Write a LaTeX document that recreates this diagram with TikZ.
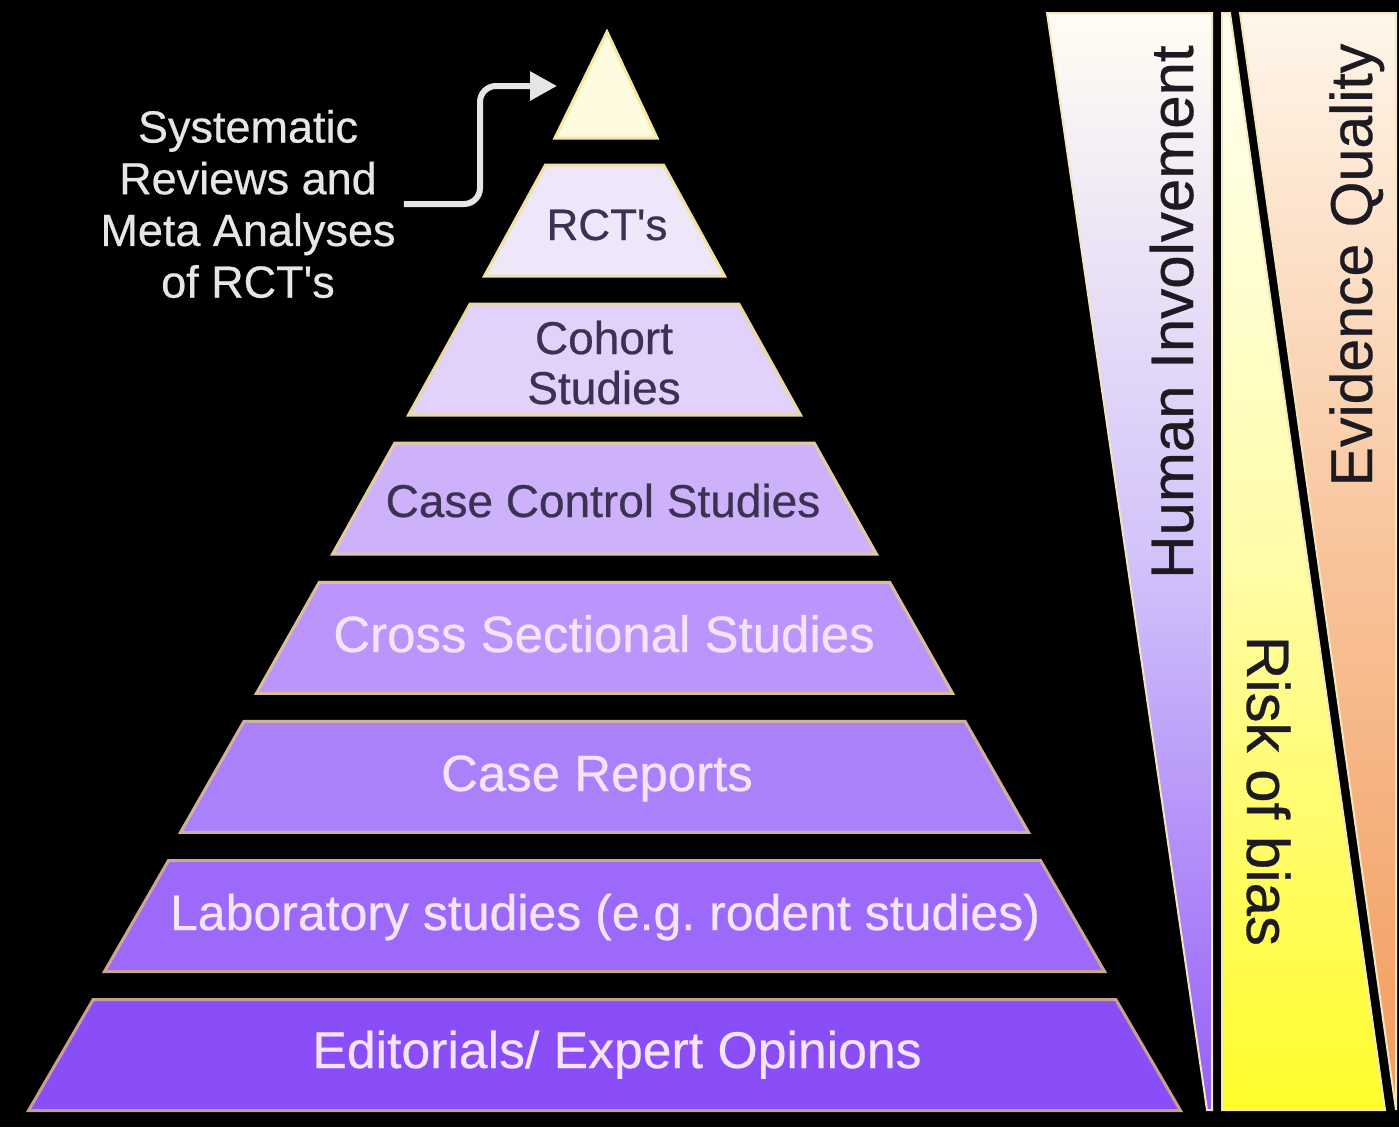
\documentclass[tikz,border=0pt]{standalone}
\usepackage{fontspec}
\setmainfont{Liberation Sans}[FakeBold=0.5]
\usetikzlibrary{arrows.meta}

% layer fills and edges, from the tip down to the base
\definecolor{apexfill}{HTML}{FEFAE0}
\definecolor{apexedge}{HTML}{F5E9A0}
\definecolor{fillA}{HTML}{EEE7F9}
\definecolor{edgeA}{HTML}{EFE2A2}
\definecolor{fillB}{HTML}{E2D2FB}
\definecolor{edgeB}{HTML}{E8D8A2}
\definecolor{fillC}{HTML}{CDB2FB}
\definecolor{edgeC}{HTML}{E0CCA0}
\definecolor{fillD}{HTML}{BB95FC}
\definecolor{edgeD}{HTML}{D8BE9C}
\definecolor{fillE}{HTML}{AB80FB}
\definecolor{edgeE}{HTML}{D0B29A}
\definecolor{fillF}{HTML}{9C69FA}
\definecolor{edgeF}{HTML}{CBA896}
\definecolor{fillG}{HTML}{8A4EF9}
\definecolor{edgeG}{HTML}{C7A092}
% text colours
\definecolor{darktext}{HTML}{3B3152}
\definecolor{lighttext}{HTML}{F4E4FA}
\definecolor{notetext}{HTML}{E6E6E6}
\definecolor{bartext}{HTML}{1E1A22}
% side bars
\definecolor{hitop}{HTML}{FFFDF3}
\definecolor{himid}{HTML}{D2C2FA}
\definecolor{hibot}{HTML}{9560F8}
\definecolor{rbtop}{HTML}{FFFFF4}
\definecolor{rbmid}{HTML}{FFFCA8}
\definecolor{rbbot}{HTML}{FFFC2A}
\definecolor{eqtop}{HTML}{FFF6EA}
\definecolor{eqmid}{HTML}{F8C39A}
\definecolor{eqbot}{HTML}{F29C5C}
\definecolor{baredge}{HTML}{F2E6C0}

\begin{document}
\begin{tikzpicture}[x=1pt,y=-1pt,
  layer/.style={line width=3pt, line join=miter},
  darklbl/.style={text=darktext, font=\fontsize{46}{50}\selectfont, inner sep=0pt, anchor=base},
  lightlbl/.style={text=lighttext, font=\fontsize{51}{55}\selectfont, inner sep=0pt, anchor=base},
  notelbl/.style={text=notetext, font=\fontsize{45}{51.7}\selectfont, align=center, inner sep=8pt},
  barlbl/.style={text=bartext, font=\fontsize{60}{62}\selectfont, inner sep=0pt, anchor=base},
  barline/.style={draw=baredge, line width=2pt, line join=miter},
  pointer/.style={draw=notetext, line width=6pt, rounded corners=16pt,
    -{Triangle[length=27pt,width=28pt]}}]

% background
\fill[black] (0,0) rectangle (1399,1127);
\useasboundingbox (0,0) rectangle (1399,1127);

% pyramid tip
\filldraw[layer, fill=apexfill, draw=apexedge] (607,32) -- (657,138) -- (555,138) -- cycle;
\coordinate (apextip) at (557,86);

% pyramid layers (trapezoids)
\foreach \k/\fc/\bc in {0/fillA/edgeA, 1/fillB/edgeB, 2/fillC/edgeC, 3/fillD/edgeD,
                        4/fillE/edgeE, 5/fillF/edgeF, 6/fillG/edgeG}{
  \pgfmathsetmacro\yt{165+139.1*\k}
  \pgfmathsetmacro\yb{\yt+111}
  \pgfmathsetmacro\ht{59+75.4*\k}
  \pgfmathsetmacro\hb{120+76*\k}
  \filldraw[layer, fill=\fc, draw=\bc]
    (604.5-\ht,\yt) -- (604.5+\ht,\yt) -- (604.5+\hb,\yb) -- (604.5-\hb,\yb) -- cycle;
}

% layer labels
\node[darklbl, font=\fontsize{44}{50}\selectfont] (rct) at (607,240) {RCT\textquotesingle s};
\node[darklbl, align=center] (cohort) at (604,404) {Cohort\\Studies};
\node[darklbl] (casecontrol) at (603,517) {Case Control Studies};
\node[lightlbl] (cross) at (604,652) {Cross Sectional Studies};
\node[lightlbl] (casereports) at (597,791) {Case Reports};
\node[lightlbl, font=\fontsize{50}{55}\selectfont] (lab) at (605,930) {Laboratory studies (e.g.\ rodent studies)};
\node[lightlbl, font=\fontsize{51.7}{55}\selectfont] (editorials) at (617,1068) {Editorials/ Expert Opinions};

% note and pointer to the tip
\node[notelbl] (note) at (248,204) {Systematic\\Reviews and\\Meta Analyses\\of RCT\textquotesingle s};
\coordinate (bend) at (480,86);
\draw[pointer] (note.east) -| (bend) -- (apextip);

% side bars
\shade[top color=hitop, bottom color=hibot, middle color=himid]
  (1047,13) -- (1212,13) -- (1212,1110) -- (1207,1110) -- cycle;
\draw[barline] (1047,13) -- (1212,13) -- (1212,1110) -- (1207,1110) -- cycle;
\shade[top color=rbtop, bottom color=rbbot, middle color=rbmid]
  (1222,13) -- (1230,13) -- (1385,1110) -- (1222,1110) -- cycle;
\draw[barline] (1222,13) -- (1230,13) -- (1385,1110) -- (1222,1110) -- cycle;
\shade[top color=eqtop, bottom color=eqbot, middle color=eqmid]
  (1240,13) -- (1396,13) -- (1396,1110) -- cycle;
\draw[barline] (1240,13) -- (1396,13) -- (1396,1110) -- cycle;

\node[barlbl, rotate=90] (human) at (1193,312) {Human Involvement};
\node[barlbl, rotate=90, font=\fontsize{59}{62}\selectfont] (quality) at (1372,265) {Evidence Quality};
\node[barlbl, rotate=-90] (risk) at (1247,791) {Risk of bias};
\end{tikzpicture}
\end{document}
